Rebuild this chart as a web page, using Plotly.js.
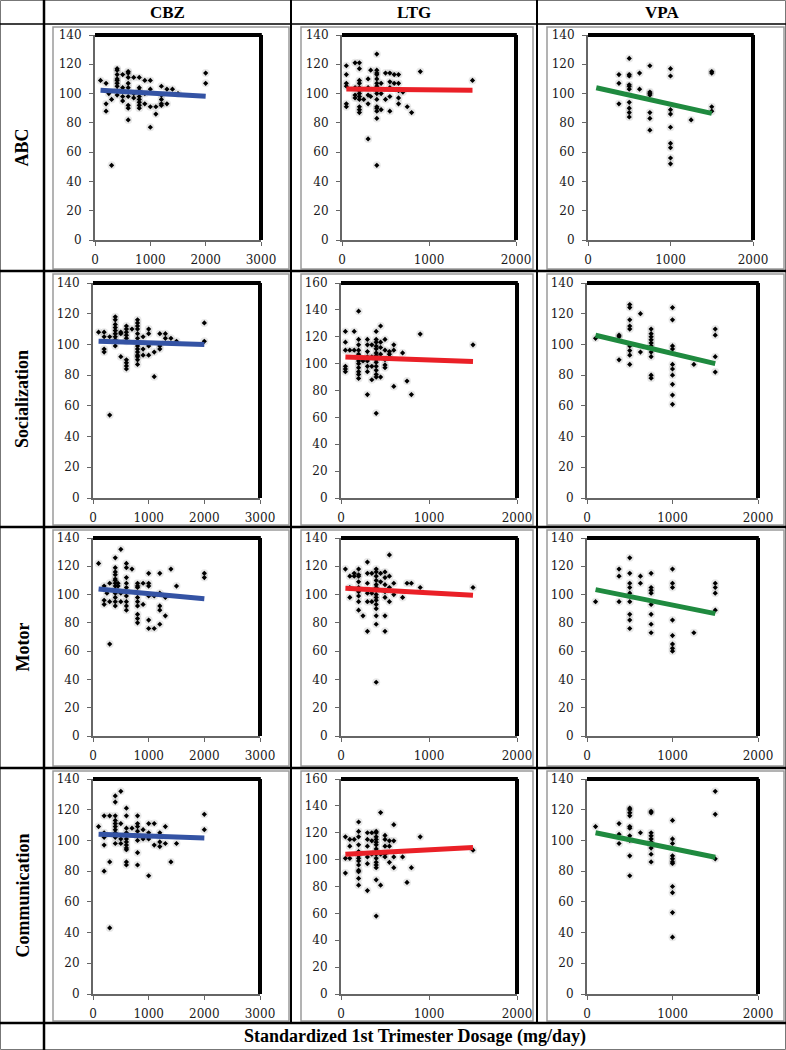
<!DOCTYPE html>
<html><head><meta charset="utf-8">
<script src="https://cdn.plot.ly/plotly-3.0.1.min.js"></script>
<style>html,body{margin:0;padding:0;background:#fff;}#chart{width:786px;height:1050px;}</style>
</head><body><div id="chart"></div>
<script>
// ---------- labels ----------
const measures = ["ABC", "Socialization", "Motor", "Communication"];
const drugs = ["CBZ", "LTG", "VPA"];
const xTitle = "Standardized 1st Trimester Dosage (mg/day)";
const xTicksCBZ = [0, 1000, 2000, 3000];
const xTicksOther = [0, 1000, 2000];
const yTicks140 = [0, 20, 40, 60, 80, 100, 120, 140];
const yTicks160 = [0, 20, 40, 60, 80, 100, 120, 140, 160];

// ---------- trend-line dose ends ----------
const cbzTrendDoses = [100, 2000];
const ltgTrendDoses = [50, 1500];
const vpaTrendDoses = [100, 1500];

// ---------- ABC ----------
const abcCbzDoses = [100, 200, 250, 300, 400, 500, 600, 700, 800, 900, 1000, 1100, 1200, 1300, 1400, 1500, 2000];
const abcCbzScores = [[109], [107, 93, 88], [100], [51, 96], [117, 116, 113, 110, 109, 107, 105, 102, 99], [113, 104, 98, 95], [115, 114, 111, 107, 104, 98, 92, 90, 82], [111, 100, 97], [111, 104, 102, 98, 96, 94, 92, 90], [109, 100, 93], [109, 103, 91, 77], [91, 86], [105, 99, 96, 93, 92], [103, 93], [103], [100], [114, 107]];
const abcCbzTrend = [102.3, 98.2];

const abcLtgDoses = [50, 150, 200, 250, 300, 330, 400, 450, 500, 550, 600, 650, 700, 750, 800, 900, 1500];
const abcLtgScores = [[119, 113, 107, 105, 93, 91], [121, 104, 99, 97], [121, 117, 109, 107, 104, 102, 100, 98, 96, 91, 89, 87], [96], [110, 104, 99, 93, 69], [116, 98], [127, 116, 114, 113, 110, 107, 105, 102, 100, 96, 91, 90, 88, 83, 51], [107, 100, 89], [114, 96], [114, 108, 104, 98, 88], [113, 107], [113, 107, 102, 97, 93], [101], [91], [87], [115], [109]];
const abcLtgTrend = [103.2, 102.2];

const abcVpaDoses = [375, 500, 625, 750, 1000, 1250, 1500];
const abcVpaScores = [[113, 107, 93], [124, 113, 112, 106, 105, 103, 94, 90, 87, 84], [114, 103], [119, 101, 100, 99, 87, 83, 75], [117, 112, 89, 86, 77, 66, 63, 56, 52], [82], [115, 114, 91, 88]];
const abcVpaTrend = [104, 86.5];

// ---------- Socialization ----------
const socCbzDoses = [100, 200, 300, 400, 500, 600, 700, 800, 900, 1000, 1100, 1200, 1300, 1400, 1500, 2000];
const socCbzScores = [[108], [108, 105, 97, 95], [105, 54], [118, 116, 113, 111, 109, 107, 105, 103, 99], [108, 107, 92], [112, 110, 108, 106, 104, 102, 90, 88, 86, 84], [110], [116, 114, 112, 110, 107, 104, 99, 97, 95, 93, 92, 90, 87], [105, 97, 93], [110, 107, 99, 93], [95, 79], [107, 99, 97], [107, 104], [104], [102], [114, 102]];
const socCbzTrend = [102, 100];

const socLtgDoses = [50, 100, 150, 200, 250, 300, 350, 400, 450, 500, 550, 600, 700, 750, 800, 900, 1500];
const socLtgScores = [[124, 116, 110, 98, 96, 94], [110], [124, 110], [139, 118, 114, 110, 107, 105, 102, 100, 97, 94, 92, 89], [102], [118, 114, 109, 105, 102, 98, 94, 77], [114, 105, 98, 88], [124, 118, 116, 113, 111, 108, 106, 103, 101, 98, 95, 92, 90, 63], [128, 116, 112, 107, 90], [118, 110, 103, 99, 97], [109, 107, 105], [114, 110, 83], [108], [87], [77], [122], [114]];
const socLtgTrend = [105, 101.5];

const socVpaDoses = [100, 375, 500, 625, 750, 1000, 1250, 1500];
const socVpaScores = [[104], [106, 105, 90], [126, 124, 116, 112, 110, 99, 96, 93, 87], [120, 95], [110, 107, 105, 103, 101, 99, 95, 92, 80, 78], [124, 116, 99, 97, 87, 84, 80, 74, 67, 61], [87], [110, 106, 92, 82]];
const socVpaTrend = [106, 87.5];

// ---------- Motor ----------
const motCbzDoses = [100, 200, 250, 300, 400, 450, 500, 600, 700, 800, 900, 1000, 1100, 1200, 1300, 1400, 1500, 2000];
const motCbzScores = [[122], [106, 96, 93], [101], [108, 95, 65], [126, 119, 116, 114, 111, 110, 108, 106, 103, 101, 98, 95, 92], [108, 106], [132, 101, 95], [122, 119, 112, 108, 105, 102, 99, 95, 92, 89], [118], [108, 106, 105, 98, 95, 92, 86, 83, 80], [108, 93], [115, 108, 106, 99, 82, 76], [99, 76], [115, 101, 92, 89, 79], [98, 85], [118], [106], [115, 112]];
const motCbzTrend = [104, 97];

const motLtgDoses = [50, 100, 150, 200, 250, 300, 350, 400, 450, 500, 550, 600, 700, 750, 800, 900, 1500];
const motLtgScores = [[118], [113, 105, 98], [113, 115], [118, 114, 113, 109, 105, 102, 99, 95, 89], [85], [123, 115, 108, 101, 95, 74], [115, 101, 95], [118, 116, 113, 110, 107, 105, 103, 100, 98, 96, 93, 90, 85, 79, 38], [115, 109], [116, 112, 107, 102, 98, 85, 74], [128, 113, 105, 95], [108, 100], [98], [108], [108], [105], [105]];
const motLtgTrend = [104.5, 99.5];

const motVpaDoses = [100, 375, 500, 625, 750, 1000, 1250, 1500];
const motVpaScores = [[95], [118, 113, 95], [126, 115, 108, 105, 101, 95, 86, 82, 76], [113, 108], [115, 105, 103, 101, 93, 86, 79, 73], [118, 108, 105, 82, 71, 65, 62, 60], [73], [108, 105, 101, 89]];
const motVpaTrend = [103.5, 86.5];

// ---------- Communication ----------
const comCbzDoses = [100, 200, 300, 400, 500, 600, 700, 800, 900, 1000, 1100, 1200, 1300, 1400, 1500, 2000];
const comCbzScores = [[109], [116, 105, 102, 97, 80], [116, 86, 43], [129, 125, 116, 113, 111, 109, 107, 105, 102, 98], [132, 111, 101, 98], [121, 116, 108, 105, 101, 99, 97, 95, 94, 86, 84], [108], [116, 111, 109, 106, 103, 100, 92, 84], [107, 101], [111, 105, 101, 77], [111, 97], [105, 99, 96], [109, 98], [86], [98], [117, 107]];
const comCbzTrend = [104, 101.5];

const comLtgDoses = [50, 100, 150, 200, 300, 350, 400, 450, 500, 550, 600, 700, 750, 800, 900, 1500];
const comLtgScores = [[117, 101, 90], [115, 110, 101], [115], [128, 121, 117, 111, 106, 103, 101, 99, 96, 92, 91, 86, 81], [120, 115, 110, 102, 97, 77], [120, 114, 104], [121, 120, 117, 115, 113, 111, 108, 106, 104, 101, 98, 96, 94, 85, 58], [135, 104, 81], [118, 115, 110, 104, 102], [114, 110, 98], [126, 114, 102, 94], [102], [83], [94], [117], [107]];
const comLtgTrend = [104, 109];

const comVpaDoses = [100, 375, 500, 625, 750, 1000, 1500];
const comVpaScores = [[109], [111, 104, 98], [121, 120, 118, 116, 109, 108, 103, 100, 90, 77], [105], [119, 118, 105, 103, 101, 99, 97, 95, 91, 86], [113, 101, 98, 90, 88, 86, 85, 70, 66, 53, 37], [132, 117, 88]];
const comVpaTrend = [105, 89];

// ---------- assembly ----------
const W = 786, H = 1050;
const panelData = [
  [[abcCbzDoses, abcCbzScores, abcCbzTrend], [abcLtgDoses, abcLtgScores, abcLtgTrend], [abcVpaDoses, abcVpaScores, abcVpaTrend]],
  [[socCbzDoses, socCbzScores, socCbzTrend], [socLtgDoses, socLtgScores, socLtgTrend], [socVpaDoses, socVpaScores, socVpaTrend]],
  [[motCbzDoses, motCbzScores, motCbzTrend], [motLtgDoses, motLtgScores, motLtgTrend], [motVpaDoses, motVpaScores, motVpaTrend]],
  [[comCbzDoses, comCbzScores, comCbzTrend], [comLtgDoses, comLtgScores, comLtgTrend], [comVpaDoses, comVpaScores, comVpaTrend]]
];
const trendDoses = [cbzTrendDoses, ltgTrendDoses, vpaTrendDoses];
const trendColors = ["#3453a4", "#ea2027", "#1f8a3f"];
const yTickSets = [[yTicks140, yTicks140, yTicks140], [yTicks140, yTicks160, yTicks140], [yTicks140, yTicks140, yTicks140], [yTicks140, yTicks160, yTicks140]];
const xTickSets = [xTicksCBZ, xTicksOther, xTicksOther];

// plot-area boxes in px: [left, right, top, bottom]
const boxes = [
  [[95, 261, 35, 240], [342, 516, 35, 240], [588, 753, 35, 240]],
  [[93, 260, 283, 498], [341, 517, 283, 498], [587, 758, 283, 498]],
  [[93, 260, 538, 736], [341, 517, 538, 736], [587, 758, 538, 736]],
  [[93, 260, 779, 994], [341, 517, 779, 994], [587, 758, 779, 994]]
];
const rowSeps = [24, 271, 527, 768, 1023];
const colSeps = [44, 291, 537, 786];
const frameCols = [[53, 289], [301, 533], [547, 784]];

function flat(doses, scores) {
  const x = [], y = [];
  doses.forEach((d, i) => scores[i].forEach(s => { x.push(d); y.push(s); }));
  return { x, y };
}
const px = v => v / W;
const py = v => 1 - v / H;

const traces = [];
const layout = {
  width: W, height: H, margin: { l: 0, r: 0, t: 0, b: 0 },
  paper_bgcolor: "#fff", plot_bgcolor: "#fff", showlegend: false,
  shapes: [], annotations: []
};
const tickFont = { family: "DejaVu Serif, serif", size: 12, color: "#1a1a1a" };

for (let r = 0; r < 4; r++) {
  for (let c = 0; c < 3; c++) {
    const k = r * 3 + c + 1;
    const s = k === 1 ? "" : String(k);
    const [l, rr, t, b] = boxes[r][c];
    const xt = xTickSets[c], yt = yTickSets[r][c];
    layout["xaxis" + s] = {
      domain: [px(l), px(rr)], range: [0, xt[xt.length - 1]], tickvals: xt, ticktext: xt.map(String),
      anchor: "y" + s, showline: true, linecolor: "#666", linewidth: 2, ticks: "outside", ticklen: 4,
      tickcolor: "#666", showgrid: false, zeroline: false, tickfont: tickFont, ticklabelstandoff: 4, fixedrange: true
    };
    layout["yaxis" + s] = {
      domain: [py(b), py(t)], range: [0, yt[yt.length - 1]], tickvals: yt, ticktext: yt.map(String),
      anchor: "x" + s, showline: true, linecolor: "#666", linewidth: 2, ticks: "outside", ticklen: 4,
      tickcolor: "#666", showgrid: false, zeroline: false, tickfont: tickFont, ticklabelstandoff: 5, fixedrange: true
    };
    // black top & right plot border
    layout.shapes.push({ type: "line", xref: "x" + s + " domain", yref: "y" + s + " domain", x0: 0, x1: 1.005, y0: 1, y1: 1, line: { color: "#000", width: 4 } });
    layout.shapes.push({ type: "line", xref: "x" + s + " domain", yref: "y" + s + " domain", x0: 1, x1: 1, y0: 0, y1: 1, line: { color: "#000", width: 4 } });

    const [doses, scores, trend] = panelData[r][c];
    const p = flat(doses, scores);
    traces.push({ type: "scatter", mode: "markers", x: p.x, y: p.y, xaxis: "x" + s, yaxis: "y" + s,
      marker: { size: 8, color: "rgba(0,0,0,0.09)" }, hoverinfo: "skip" });
    traces.push({ type: "scatter", mode: "markers", x: p.x, y: p.y, xaxis: "x" + s, yaxis: "y" + s,
      marker: { symbol: "diamond", size: 4, color: "#000" } });
    traces.push({ type: "scatter", mode: "lines", x: trendDoses[c], y: trend, xaxis: "x" + s, yaxis: "y" + s,
      line: { color: trendColors[c], width: 5 } });

    // gray chart-area frame
    layout.shapes.push({ type: "rect", xref: "paper", yref: "paper",
      x0: px(frameCols[c][0]), x1: px(frameCols[c][1]), y0: py(rowSeps[r + 1] - 2), y1: py(rowSeps[r] + 3),
      line: { color: "#9a9a9a", width: 1.5 }, layer: "below" });
  }
}

// table lines
layout.shapes.push({ type: "rect", xref: "paper", yref: "paper", x0: px(0.5), x1: px(785.5), y0: py(1049.5), y1: py(0.5), line: { color: "#777", width: 1 } });
layout.shapes.push({ type: "line", xref: "paper", yref: "paper", x0: 0, x1: 1, y0: py(24), y1: py(24), line: { color: "#000", width: 1.5 } });
rowSeps.slice(1).forEach(v => layout.shapes.push({ type: "line", xref: "paper", yref: "paper", x0: 0, x1: 1, y0: py(v), y1: py(v), line: { color: "#000", width: 2.5 } }));
layout.shapes.push({ type: "line", xref: "paper", yref: "paper", x0: px(44), x1: px(44), y0: 0, y1: 1, line: { color: "#000", width: 2.5 } });
[291, 537].forEach(v => layout.shapes.push({ type: "line", xref: "paper", yref: "paper", x0: px(v), x1: px(v), y0: py(1023), y1: 1, line: { color: "#000", width: 2 } }));

// headers
const serif = "Liberation Serif, Times New Roman, serif";
drugs.forEach((d, c) => layout.annotations.push({ xref: "paper", yref: "paper", x: px((colSeps[c] + colSeps[c + 1]) / 2), y: py(12.5),
  text: "<b>" + d + "</b>", showarrow: false, xanchor: "center", yanchor: "middle", font: { family: serif, size: 17, color: "#000" } }));
measures.forEach((m, r) => layout.annotations.push({ xref: "paper", yref: "paper", x: px(22), y: py((rowSeps[r] + rowSeps[r + 1]) / 2),
  text: "<b>" + m + "</b>", showarrow: false, textangle: -90, xanchor: "center", yanchor: "middle",
  font: { family: serif, size: 18, color: "#000" } }));
layout.annotations.push({ xref: "paper", yref: "paper", x: px(415), y: py(1036.5), text: "<b>" + xTitle + "</b>",
  showarrow: false, xanchor: "center", yanchor: "middle", font: { family: serif, size: 18, color: "#000" } });

Plotly.newPlot("chart", traces, layout, { staticPlot: true, displayModeBar: false });
</script>
</body></html>
